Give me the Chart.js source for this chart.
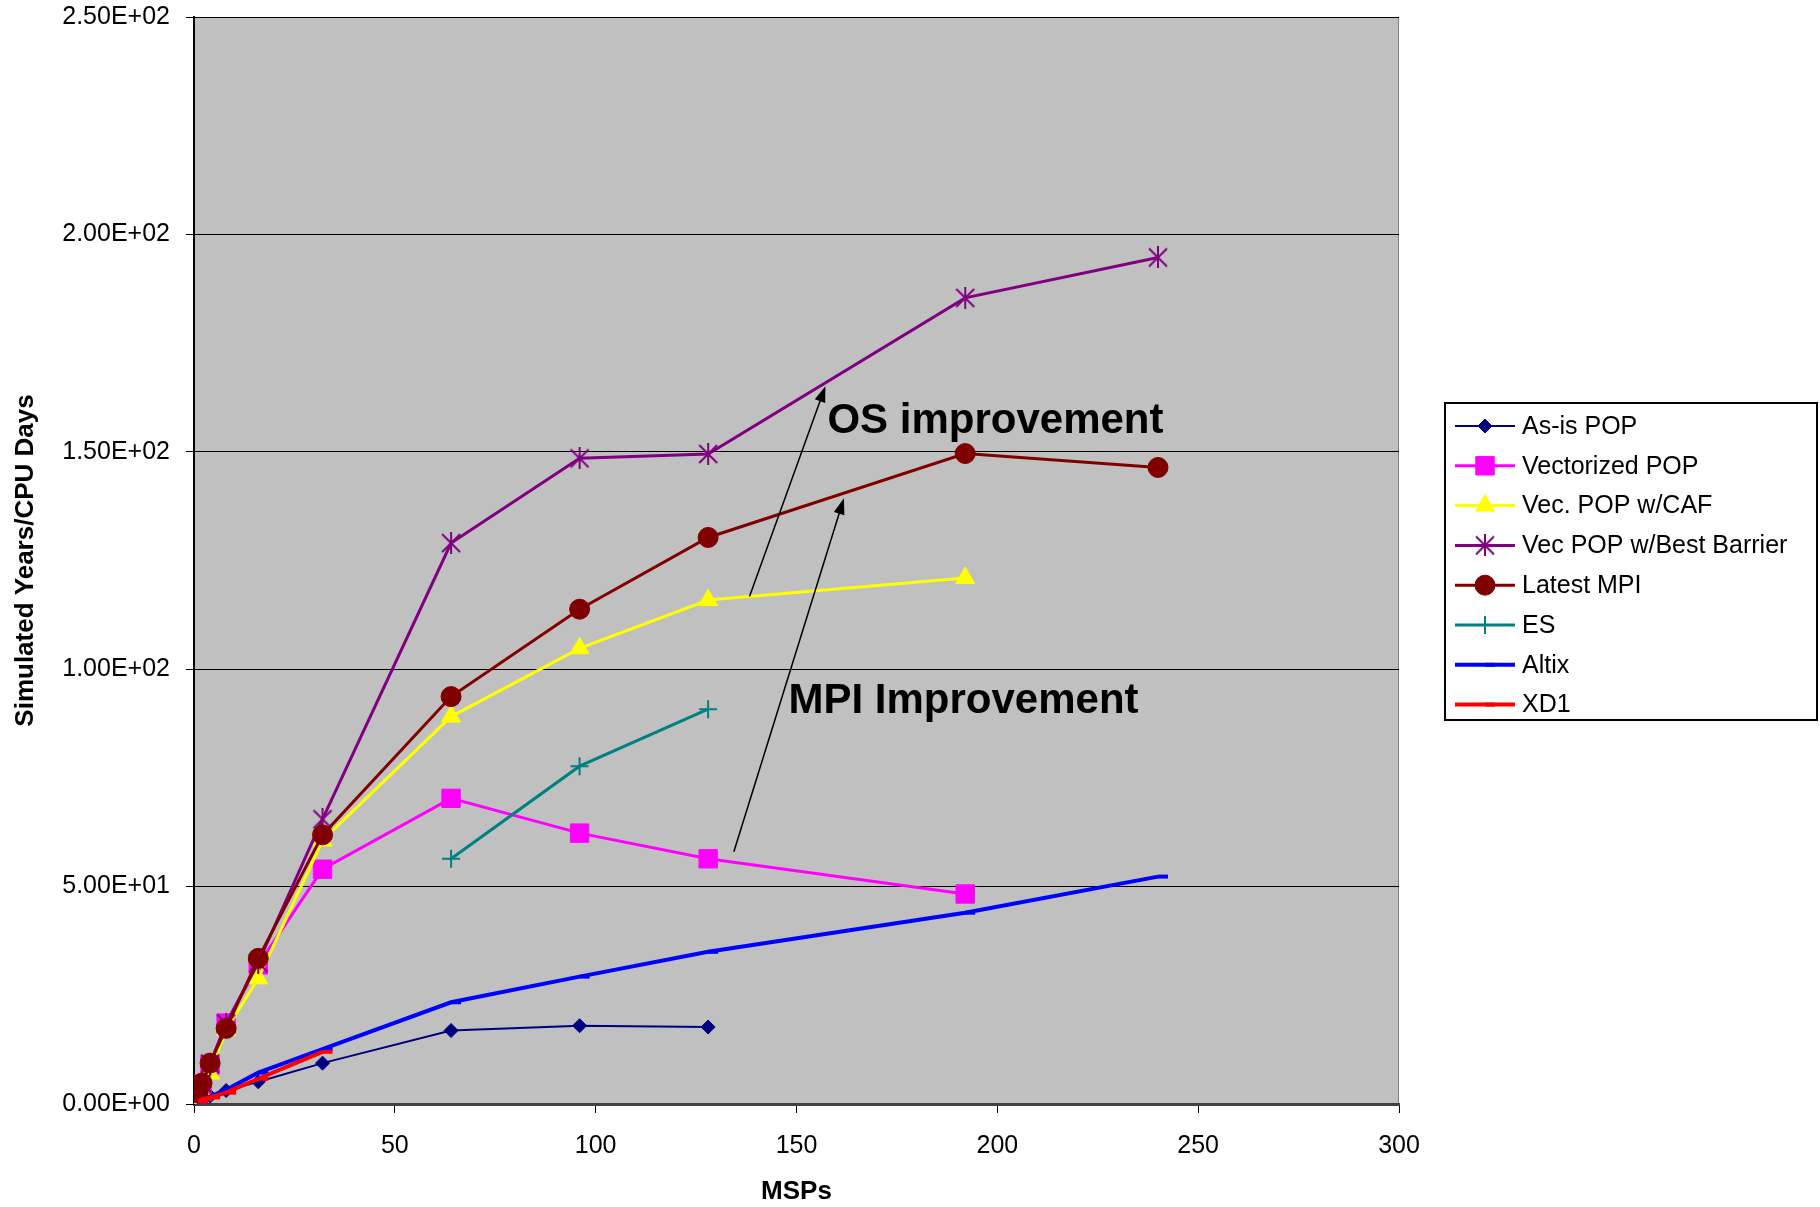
<!DOCTYPE html>
<html>
<head>
<meta charset="utf-8">
<script src="https://cdn.jsdelivr.net/npm/chart.js@4.4.1/dist/chart.umd.min.js"></script>
<style>
  html, body { margin: 0; padding: 0; background: #fff; }
  #wrap { width: 1820px; height: 1207px; }
</style>
</head>
<body>
<div id="wrap"><canvas id="chart" width="1820" height="1207"></canvas></div>
<script>
// MSP counts used on the x axis
const msps = [1, 2, 4, 8, 16, 32, 64, 96, 128, 192, 240]
const esMsps = [64, 96, 128]

// Simulated years per CPU day
const asIsPop = [0.5, 1.0, 1.8, 3.1, 5.1, 9.4, 16.9, 18.0, 17.7]
const vectorizedPop = [2.3, 4.6, 9.0, 18.6, 32.0, 54.0, 70.3, 62.3, 56.4, 48.3]
const vecPopCaf = [1.0, 2.5, 7.0, 17.0, 28.9, 60.6, 89.1, 104.8, 115.9, 121.0]
const vecPopBarrier = [2.5, 4.8, 9.3, 18.5, 32.5, 65.5, 129.0, 148.5, 149.5, 185.4, 194.7]
const latestMpi = [2.5, 4.8, 9.4, 17.4, 33.5, 61.9, 93.7, 113.8, 130.3, 149.6, 146.4]
const esValues = [56.4, 77.7, 90.8]
const altix = [0.5, 1.0, 1.7, 3.3, 7.2, 12.6, 23.4, 29.3, 35.0, 44.0, 52.3]
const xd1 = [0.6, 1.1, 1.5, 2.6, 5.8, 12.0]

const yTicks = [0, 50, 100, 150, 200, 250]
const xTicks = [0, 50, 100, 150, 200, 250, 300]

const FONT = '"Liberation Sans", Arial, sans-serif'

const pairs = (xs, ys) => ys.map((y, i) => ({ x: xs[i], y: y }))

// Excel style asterisk: an X with a vertical stroke
function makeAsterisk(color, size) {
  const c = document.createElement('canvas')
  c.width = size
  c.height = size
  const g = c.getContext('2d')
  g.strokeStyle = color
  g.lineWidth = 2
  g.beginPath()
  g.moveTo(2, 2); g.lineTo(size - 2, size - 2)
  g.moveTo(size - 2, 2); g.lineTo(2, size - 2)
  g.moveTo(size / 2, 0); g.lineTo(size / 2, size)
  g.stroke()
  return c
}

const series = [
  { label: 'As-is POP', xs: msps, ys: asIsPop, color: '#000080', line: 2, style: 'rectRot', radius: 7, pbw: 1 },
  { label: 'Vectorized POP', xs: msps, ys: vectorizedPop, color: '#FF00FF', line: 3, style: 'rect', radius: 13, pbw: 1 },
  { label: 'Vec. POP w/CAF', xs: msps, ys: vecPopCaf, color: '#FFFF00', line: 3, style: 'triangle', radius: 11, pbw: 1 },
  { label: 'Vec POP w/Best Barrier', xs: msps, ys: vecPopBarrier, color: '#800080', line: 3, style: makeAsterisk('#800080', 22), radius: 11, pbw: 2 },
  { label: 'Latest MPI', xs: msps, ys: latestMpi, color: '#800000', line: 3, style: 'circle', radius: 10, pbw: 1 },
  { label: 'ES', xs: esMsps, ys: esValues, color: '#008080', line: 3, style: 'cross', radius: 9, pbw: 2 },
  { label: 'Altix', xs: msps, ys: altix, color: '#0000FF', line: 4, style: 'dash', radius: 10, pbw: 4 },
  { label: 'XD1', xs: msps, ys: xd1, color: '#FF0000', line: 4, style: 'dash', radius: 10, pbw: 4 }
]

// text callouts, in data units
const notes = [
  { text: 'OS improvement', x: 157.7, y: 154.3, from: [138.3, 116.7], to: [157.2, 165.1] },
  { text: 'MPI Improvement', x: 148.0, y: 89.9, from: [134.4, 58.0], to: [161.8, 139.3] }
]

const sci = (v) => {
  const [m, e] = Number(v).toExponential(2).split('e')
  return m + 'E' + e[0] + e.slice(1).padStart(2, '0')
}

const plotBackground = {
  id: 'plotBackground',
  beforeDraw(chart) {
    const { ctx, chartArea: a } = chart
    ctx.save()
    ctx.fillStyle = '#C0C0C0'
    ctx.fillRect(a.left, a.top, a.right - a.left, a.bottom - a.top)
    ctx.strokeStyle = '#808080'
    ctx.lineWidth = 1
    ctx.strokeRect(a.left + 0.5, a.top + 0.5, a.right - a.left - 1, a.bottom - a.top - 1)
    ctx.restore()
  }
}

const callouts = {
  id: 'callouts',
  afterDatasetsDraw(chart) {
    const { ctx, scales: { x, y } } = chart
    ctx.save()
    notes.forEach(n => {
      const x0 = x.getPixelForValue(n.from[0]), y0 = y.getPixelForValue(n.from[1])
      const x1 = x.getPixelForValue(n.to[0]), y1 = y.getPixelForValue(n.to[1])
      const ang = Math.atan2(y1 - y0, x1 - x0)
      const len = 16, half = 5.5
      ctx.strokeStyle = '#000'
      ctx.fillStyle = '#000'
      ctx.lineWidth = 1.5
      ctx.beginPath()
      ctx.moveTo(x0, y0)
      ctx.lineTo(x1 - Math.cos(ang) * len * 0.8, y1 - Math.sin(ang) * len * 0.8)
      ctx.stroke()
      ctx.beginPath()
      ctx.moveTo(x1, y1)
      ctx.lineTo(x1 - Math.cos(ang) * len - Math.sin(ang) * half, y1 - Math.sin(ang) * len + Math.cos(ang) * half)
      ctx.lineTo(x1 - Math.cos(ang) * len + Math.sin(ang) * half, y1 - Math.sin(ang) * len - Math.cos(ang) * half)
      ctx.closePath()
      ctx.fill()

      ctx.font = 'bold 42px ' + FONT
      ctx.textAlign = 'left'
      ctx.textBaseline = 'alphabetic'
      ctx.fillText(n.text, x.getPixelForValue(n.x), y.getPixelForValue(n.y))
    })
    ctx.restore()
  }
}

const boxLegend = {
  id: 'boxLegend',
  afterDraw(chart) {
    const { ctx } = chart
    const left = 1445, top = 403, right = 1817, bottom = 720
    ctx.save()
    ctx.fillStyle = '#fff'
    ctx.fillRect(left, top, right - left, bottom - top)
    ctx.strokeStyle = '#000'
    ctx.lineWidth = 2
    ctx.strokeRect(left, top, right - left, bottom - top)
    series.forEach((s, i) => {
      const cy = 426 + i * 39.8
      ctx.strokeStyle = s.color
      ctx.fillStyle = s.color
      ctx.lineWidth = s.line
      ctx.beginPath()
      ctx.moveTo(1455, cy)
      ctx.lineTo(1515, cy)
      ctx.stroke()
      ctx.lineWidth = s.pbw
      if (Chart.helpers && Chart.helpers.drawPoint) {
        Chart.helpers.drawPoint(ctx, { pointStyle: s.style, radius: s.radius, rotation: 0, borderWidth: s.pbw }, 1485, cy)
      }
      ctx.fillStyle = '#000'
      ctx.font = '25px ' + FONT
      ctx.textAlign = 'left'
      ctx.textBaseline = 'middle'
      ctx.fillText(s.label, 1522, cy + 1)
    })
    ctx.restore()
  }
}

const datasets = series.map((s, i) => ({
  label: s.label,
  data: pairs(s.xs, s.ys),
  borderColor: s.color,
  backgroundColor: s.color,
  borderWidth: s.line,
  pointStyle: s.style,
  pointRadius: s.radius,
  pointHoverRadius: s.radius,
  pointBorderWidth: s.pbw,
  pointBorderColor: s.color,
  pointBackgroundColor: s.color,
  tension: 0,
  fill: false,
  order: series.length - i
}))

const ctx = document.getElementById('chart').getContext('2d')
new Chart(ctx, {
  type: 'line',
  data: { datasets },
  plugins: [plotBackground, callouts, boxLegend],
  options: {
    responsive: false,
    animation: false,
    devicePixelRatio: 1,
    layout: { padding: { top: 17, right: 421, bottom: 0, left: 0 } },
    plugins: {
      legend: { display: false },
      tooltip: { enabled: false }
    },
    scales: {
      x: {
        type: 'linear',
        min: 0,
        max: 300,
        afterFit(scale) { scale.height = 103 },
        afterBuildTicks(scale) { scale.ticks = xTicks.map(v => ({ value: v })) },
        border: { display: true, color: '#404040', width: 3 },
        grid: { drawOnChartArea: false, drawTicks: true, tickLength: 9, tickColor: '#000', tickWidth: 1 },
        ticks: { color: '#000', padding: 18, maxRotation: 0, font: { family: FONT, size: 25 } },
        title: { display: true, text: 'MSPs', color: '#000', padding: { top: 0, bottom: 0 }, font: { family: FONT, size: 26, weight: 'bold' } }
      },
      y: {
        type: 'linear',
        min: 0,
        max: 250,
        afterFit(scale) {
          scale.width = 194
          scale.paddingTop = 0
          scale.paddingBottom = 0
        },
        afterBuildTicks(scale) { scale.ticks = yTicks.map(v => ({ value: v })) },
        border: { display: true, color: '#000', width: 2 },
        grid: { color: '#000', lineWidth: 1, drawTicks: true, tickLength: 8, tickColor: '#000' },
        ticks: { color: '#000', padding: 16, font: { family: FONT, size: 25 }, callback: (v) => sci(v) },
        title: { display: true, text: 'Simulated Years/CPU Days', color: '#000', padding: { top: 10, bottom: 0 }, font: { family: FONT, size: 26, weight: 'bold' } }
      }
    }
  }
})
</script>
</body>
</html>
